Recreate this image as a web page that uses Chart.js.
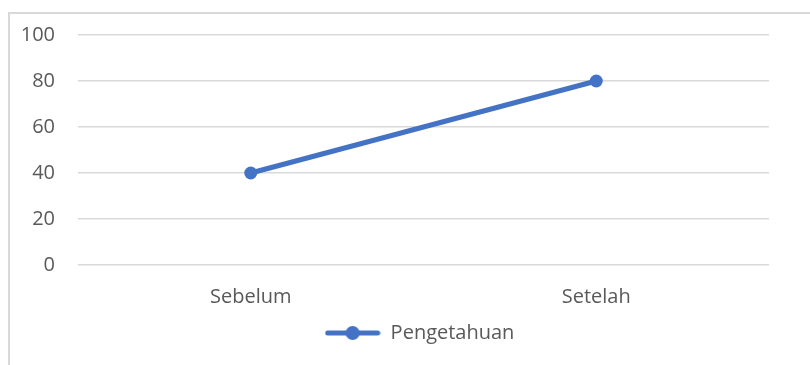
<!DOCTYPE html>
<html>
<head>
    <style>
        body { margin: 0; background: #fff; }
        #frame {
            position: absolute; left: 8px; top: 12px;
            width: 900px; height: 400px;
            border: 2px solid #d9d9d9;
        }
        #wrap { position: absolute; left: 0; top: 0; width: 810px; height: 365px; }
    </style>
    <script src="https://cdn.jsdelivr.net/npm/chart.js"></script>
</head>
<body>
    <div id="frame"></div>
    <div id="wrap"><canvas id="chart" width="810" height="365"></canvas></div>
    <script>
        // chart data
        const categories = ['Sebelum', 'Setelah'];
        const pengetahuan = [40, 80];
        const yTicks = [0, 20, 40, 60, 80, 100];

        const blue = '#4472C4';
        const textColor = '#595959';
        const fontFamily = '"Open Sans", sans-serif';

        // legend marker: line with a dot in the middle
        const marker = document.createElement('canvas');
        marker.width = 56; marker.height = 16;
        const mctx = marker.getContext('2d');
        mctx.strokeStyle = blue;
        mctx.lineWidth = 5;
        mctx.lineCap = 'round';
        mctx.beginPath(); mctx.moveTo(3, 8); mctx.lineTo(53, 8); mctx.stroke();
        mctx.fillStyle = blue;
        mctx.beginPath(); mctx.arc(28, 8, 7, 0, Math.PI * 2); mctx.fill();

        // centre the legend under the plot area instead of the whole canvas
        const centreLegend = {
            id: 'centreLegend',
            afterLayout(chart) {
                const lg = chart.legend;
                const shift = (chart.chartArea.left + chart.chartArea.right) / 2 - (lg.left + lg.right) / 2 - 4;
                lg.left += shift;
                lg.right += shift;
            }
        };

        new Chart(document.getElementById('chart'), {
            type: 'line',
            data: {
                labels: categories,
                datasets: [{
                    label: 'Pengetahuan',
                    data: pengetahuan,
                    borderColor: blue,
                    backgroundColor: blue,
                    borderWidth: 5,
                    pointRadius: 6.5,
                    pointHoverRadius: 6.5,
                    pointBorderWidth: 0,
                    pointStyle: 'circle',
                    tension: 0
                }]
            },
            plugins: [centreLegend],
            options: {
                responsive: false,
                animation: false,
                layout: { padding: { left: 0, right: 41, top: 21, bottom: 12 } },
                plugins: {
                    tooltip: { enabled: false },
                    legend: {
                        position: 'bottom',
                        labels: {
                            usePointStyle: true,
                            pointStyle: marker,
                            pointStyleWidth: 56,
                            color: textColor,
                            font: { family: fontFamily, size: 20 },
                            padding: 10
                        }
                    }
                },
                scales: {
                    x: {
                        offset: true,
                        grid: { display: false, drawTicks: false },
                        border: { display: false },
                        ticks: { color: textColor, font: { family: fontFamily, size: 20 }, padding: 20 },
                        afterFit: s => { s.height = 48; }
                    },
                    y: {
                        min: 0, max: 100,
                        afterBuildTicks: s => { s.ticks = yTicks.map(v => ({ value: v })); },
                        grid: { color: '#d9d9d9', lineWidth: 1.5, drawTicks: false },
                        border: { display: false },
                        ticks: { color: textColor, font: { family: fontFamily, size: 20 }, padding: 23 },
                        afterFit: s => { s.width = 78; }
                    }
                }
            }
        });
    </script>
</body>
</html>
